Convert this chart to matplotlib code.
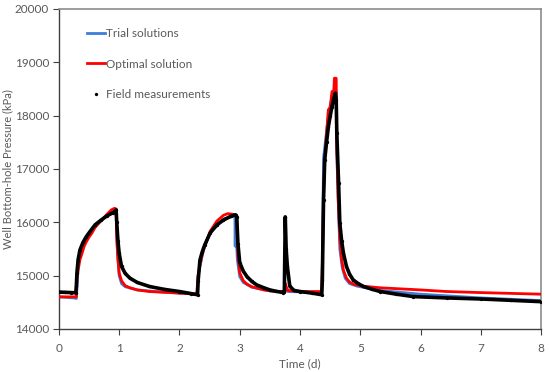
import matplotlib
matplotlib.use("Agg")
import matplotlib.pyplot as plt
from matplotlib.lines import Line2D

plt.rcParams["font.family"] = ["Lato", "DejaVu Sans"]

# Field measurements (time in days, pressure in kPa)
field_t = [0, 0.1, 0.2, 0.28, 0.29, 0.30, 0.32, 0.35, 0.40, 0.45, 0.50, 0.60,
           0.70, 0.80, 0.90, 0.95, 0.96, 0.98, 1.00, 1.04, 1.10, 1.18, 1.30,
           1.50, 1.75, 2.00, 2.20, 2.30, 2.31, 2.34, 2.38, 2.42, 2.51, 2.62,
           2.73, 2.85, 2.93, 2.95, 2.97, 3.00, 3.06, 3.12, 3.20, 3.28, 3.40,
           3.50, 3.60, 3.72, 3.74, 3.755, 3.77, 3.79, 3.83, 3.90, 4.00, 4.20,
           4.36, 4.37, 4.39, 4.41, 4.44, 4.47, 4.50, 4.53, 4.56, 4.585, 4.60,
           4.61, 4.64, 4.66, 4.69, 4.72, 4.77, 4.82, 4.88, 4.95, 5.05, 5.20,
           5.33, 5.60, 5.88, 6.43, 7.00, 7.50, 8.00]
field_p = [14690, 14685, 14680, 14675, 14800, 15050, 15300, 15480, 15620, 15720,
           15800, 15950, 16040, 16120, 16180, 16230, 16000, 15650, 15420, 15170,
           15040, 14950, 14870, 14795, 14740, 14700, 14660, 14640, 14900, 15290,
           15450, 15575, 15800, 15950, 16040, 16110, 16140, 16100, 15600, 15240,
           15080, 14980, 14890, 14825, 14770, 14730, 14705, 14680, 14700, 16100,
           15500, 15170, 14800, 14720, 14700, 14670, 14640, 14920, 16420, 17170,
           17500, 17790, 17990, 18170, 18320, 18420, 18300, 17670, 16730, 15980,
           15650, 15420, 15170, 15030, 14920, 14860, 14795, 14740, 14700, 14650,
           14605, 14580, 14560, 14535, 14510]

# Optimal solution
opt_t = [0, 0.28, 0.29, 0.30, 0.32, 0.35, 0.38, 0.42, 0.45, 0.50, 0.55, 0.60,
         0.70, 0.80, 0.87, 0.92, 0.95, 0.96, 0.98, 1.00, 1.04, 1.10, 1.18, 1.30,
         1.50, 2.00, 2.28, 2.29, 2.31, 2.34, 2.38, 2.42, 2.51, 2.62, 2.73, 2.80,
         2.88, 2.93, 2.95, 2.97, 3.00, 3.06, 3.12, 3.20, 3.40, 3.60, 3.75, 3.755,
         3.77, 3.80, 4.00, 4.36, 4.37, 4.39, 4.41, 4.43, 4.47, 4.50, 4.53, 4.56,
         4.57, 4.60, 4.61, 4.63, 4.66, 4.69, 4.72, 4.77, 4.82, 4.90, 5.05, 5.33,
         6.00, 6.43, 7.00, 8.00]
opt_p = [14600, 14600, 14600, 14950, 15100, 15300, 15400, 15550, 15620, 15720,
         15800, 15900, 16030, 16150, 16230, 16260, 16250, 15700, 15300, 15050,
         14900, 14810, 14770, 14730, 14700, 14670, 14650, 14700, 15000, 15200,
         15400, 15550, 15830, 16020, 16130, 16160, 16150, 16130, 16100, 15400,
         15050, 14900, 14840, 14790, 14730, 14700, 14700, 14850, 14790, 14720,
         14700, 14700, 15200, 16500, 17200, 17510, 18110, 18150, 18450, 18460,
         18700, 18700, 17400, 16500, 15700, 15300, 15100, 14950, 14880, 14830,
         14800, 14770, 14730, 14700, 14680, 14650]

# Trial solutions
trial_t = [0, 0.25, 0.29, 0.30, 0.32, 0.35, 0.45, 0.60, 0.80, 0.95, 0.97, 1.00,
           1.04, 1.10, 1.30, 1.60, 2.30, 2.31, 2.40, 2.51, 2.73, 2.92, 2.925,
           2.93, 2.96, 3.00, 3.06, 3.20, 3.50, 3.75, 3.76, 3.80, 4.36, 4.37,
           4.39, 4.43, 4.47, 4.53, 4.58, 4.60, 4.61, 4.64, 4.66, 4.70, 4.75,
           4.82, 4.95, 5.33, 6.00, 7.00, 8.00]
trial_p = [14600, 14580, 14570, 14750, 15200, 15450, 15700, 15920, 16130, 16220,
           15500, 15000, 14850, 14790, 14730, 14700, 14650, 15000, 15500, 15800,
           16060, 16120, 15550, 16100, 15300, 14980, 14870, 14780, 14710, 14690,
           14800, 14700, 14680, 15100, 17200, 17600, 18000, 18350, 18500, 18450,
           17300, 16200, 15500, 15150, 14950, 14850, 14800, 14720, 14650, 14580,
           14530]

GRAY = "#595959"

fig = plt.figure(figsize=(5.5, 3.72), dpi=100)
ax = fig.add_axes([0.107, 0.116, 0.877, 0.860])

ax.plot(trial_t, trial_p, color="#3B7DD8", lw=2.0, zorder=2)
ax.plot(opt_t, opt_p, color="#FF0000", lw=2.0, zorder=3)
ax.plot(field_t, field_p, color="black", lw=2.6, marker="o", ms=2.4,
        mew=0, zorder=4)

ax.set_xlim(0, 8)
ax.set_ylim(14000, 20000)
ax.set_xticks(range(0, 9))
ax.set_yticks(range(14000, 20001, 1000))

for side in ("left", "bottom"):
    ax.spines[side].set_color("#404040")
    ax.spines[side].set_linewidth(1.0)
for side in ("top", "right"):
    ax.spines[side].set_color("#8c8c8c")
    ax.spines[side].set_linewidth(1.2)

ax.tick_params(axis="both", colors="#404040", labelcolor=GRAY,
               labelsize=8.5, length=4, width=0.8, direction="out")
ax.tick_params(axis="x", pad=6)
ax.tick_params(axis="y", pad=3)
ax.set_xlabel("Time (d)", color=GRAY, fontsize=8.5, labelpad=3)
ax.set_ylabel("Well Bottom-hole Pressure (kPa)", color=GRAY, fontsize=8,
              labelpad=1)

handles = [
    Line2D([], [], color="#3B7DD8", lw=2.0),
    Line2D([], [], color="#FF0000", lw=2.0),
    Line2D([], [], color="black", ls="none", marker="o", ms=2.4, mew=0),
]
labels = ["Trial solutions", "Optimal solution", "Field measurements"]
leg = ax.legend(handles, labels, loc="upper left",
                bbox_to_anchor=(0.058, 0.94), frameon=False, fontsize=8.5,
                handlelength=1.5, handletextpad=0.1, labelspacing=1.65,
                borderpad=0, borderaxespad=0)
for txt in leg.get_texts():
    txt.set_color(GRAY)

fig.savefig("out.png", dpi=100)
